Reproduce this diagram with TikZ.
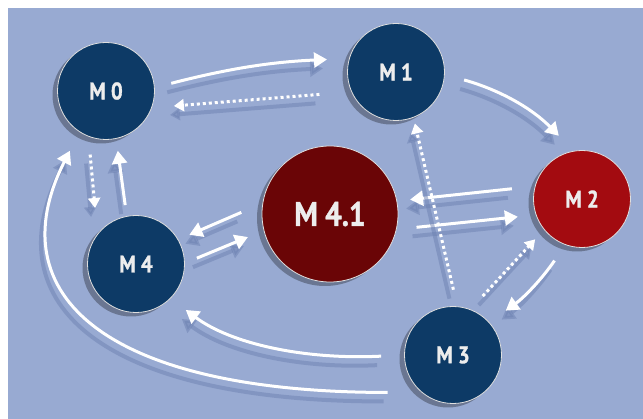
\documentclass[tikz,border=0pt]{standalone}
\usepackage{fontspec}
\setmainfont{PT Sans}
\newfontfamily\labelfont{PT Sans Bold}[FakeStretch=0.86, FakeBold=1.2]
\usetikzlibrary{arrows.meta, shadows, positioning}

\definecolor{bgblue}{HTML}{98AAD2}
\definecolor{nodeblue}{HTML}{0D3A66}
\definecolor{nodered}{HTML}{A30B10}
\definecolor{nodedark}{HTML}{6A0506}
\definecolor{shadeblue}{HTML}{6E82B2}

\tikzset{
  state/.style={circle, fill=nodeblue, draw=gray!25, line width=0.8pt,
    minimum size=97pt, inner sep=0pt, text=white!93!black,
    font=\labelfont\fontsize{24}{24}\selectfont,
    drop shadow={shadow xshift=-5pt, shadow yshift=-4pt, opacity=0.3, fill=black}},
  link/.style={draw=white, line width=3pt, -{Triangle[length=13pt,width=15pt]},
    preaction={draw=shadeblue, opacity=0.5, line width=4pt,
      transform canvas={shift={(-4,-9)}}}},
  dotlink/.style={link, dash pattern=on 3pt off 3pt,
    -{Triangle[length=10pt,width=12pt]}},
}

\begin{document}
\begin{tikzpicture}[x=1pt, y=1pt]
  % Background
  \fill[white] (0,0) rectangle (643,419);
  \fill[bgblue] (8,0) rectangle (643,411);
  \useasboundingbox (0,0) rectangle (643,419);

  % Modes
  \node[state] (m0) at (106,328) {M 0};
  \node[state] (m1) at (396,347) {M 1};
  \node[state, fill=nodered] (m2) at (582,220) {M 2};
  \node[state] (m3) at (453,64) {M 3};
  \node[state] (m4) at (136,155) {M 4};
  \node[state, fill=nodedark, minimum size=136pt,
    font=\labelfont\fontsize{34}{34}\selectfont] (m41) at (330,205) {M 4.1};

  % Transitions
  \draw[link, shorten <=17pt, shorten >=22pt] (m0.4) to[bend left=6] (m1.164);
  \draw[dotlink, shorten <=32pt, shorten >=22pt] (m1.204) -- (m0.340);
  \draw[link, shorten <=20pt, shorten >=21pt] (m1.-3) to[bend left=15] (m2.100);
  \draw[link, shorten <=23pt, shorten >=13pt] (m2.165) -- (m41.11);
  \draw[link, shorten <=20pt, shorten >=18pt] (m41.-13) -- (m2.199);
  \draw[link, shorten <=23pt, shorten >=12pt] (m41.171) -- (m4.30);
  \draw[link, shorten <=13pt, shorten >=17pt] (m4.1) -- (m41.194);
  \draw[dotlink, shorten <=18pt, shorten >=26pt] (m0.249) -- (m4.142);
  \draw[link, shorten <=11pt, shorten >=12pt] (m4.101) -- (m0.282);
  \draw[dotlink, shorten <=17pt, shorten >=6pt] (m3.85) -- (m1.291);
  \draw[dotlink, shorten <=18pt, shorten >=13pt] (m3.69) -- (m2.219);
  \draw[link, shorten <=19pt, shorten >=20pt] (m2.250) to[bend left=10] (m3.42);

  % Long returns
  \draw[link, shorten <=23pt, shorten >=19pt] (m3.180) .. controls +(-100,-5) and +(60,-45) .. (m4.315);
  \draw[link, shorten <=34pt, shorten >=21pt] (m3.230) .. controls +(-314,0) and +(-83,-164) .. (m0.237);
\end{tikzpicture}
\end{document}
